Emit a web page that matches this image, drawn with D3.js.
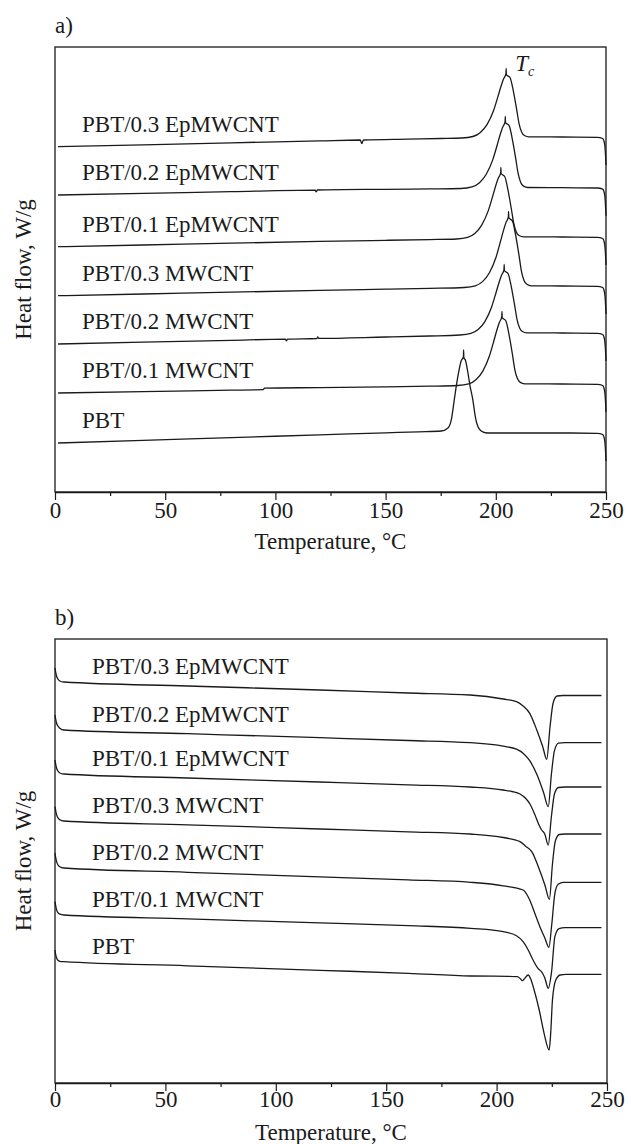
<!DOCTYPE html>
<html>
<head>
<meta charset="utf-8">
<script src="https://cdn.jsdelivr.net/npm/d3@7"></script>
<style>
    body { margin: 0; background: #fff; }
    svg text { font-family: "Liberation Serif", "Times New Roman", serif; fill: #1a1a1a; }
</style>
</head>
<body>
<div id="chart"></div>
<script>

// sample names, top to bottom (same order in both panels)
var sampleNames = ["PBT/0.3 EpMWCNT", "PBT/0.2 EpMWCNT", "PBT/0.1 EpMWCNT",
    "PBT/0.3 MWCNT", "PBT/0.2 MWCNT", "PBT/0.1 MWCNT", "PBT"];

var tempTicks = [0, 50, 100, 150, 200, 250];
var tempMinorTicks = [25, 75, 125, 175, 225];

// a) cooling scans: vertical shift of each trace (W/g) and signal [T, W/g]
var coolOffsets = [3.55, 3.043, 2.55, 2.06, 1.59, 1.08, 0.59];

var cool03Ep = [[1.4,-0.097],[40,-0.078],[80,-0.058],[120,-0.039],[138.5,-0.03],[139.2,-0.065],[140,-0.03],[160,-0.021],[175,-0.015],[184.6,-0.01],[189.6,0.005],[193.0,0.046],[196.0,0.124],[199.0,0.265],[201.0,0.406],[202.3,0.502],[203.5,0.579],[204.6,0.63],[204.7,0.685],[204.8,0.625],[206.5,0.592],[207.6,0.498],[208.6,0.384],[209.5,0.271],[210.5,0.139],[211.7,0.05],[213.0,0.015],[215.0,0.002],[230,0],[246,-0.003],[248.5,-0.015],[249.3,-0.06],[249.7,-0.15],[250,-0.28]];
var cool02Ep = [[1.4,-0.073],[40,-0.057],[80,-0.04],[118,-0.024],[118.5,-0.041],[119,-0.023],[150,-0.016],[170,-0.012],[184.2,-0.008],[189.2,0.008],[192.6,0.05],[195.6,0.132],[198.6,0.278],[200.6,0.424],[201.9,0.524],[203.1,0.604],[204.2,0.657],[204.3,0.712],[204.4,0.652],[206.1,0.618],[207.2,0.519],[208.2,0.401],[209.1,0.283],[210.1,0.145],[211.3,0.053],[212.6,0.016],[214.6,0.002],[230,0],[246,-0.003],[248.5,-0.015],[249.3,-0.06],[249.7,-0.15],[250,-0.28]];
var cool01Ep = [[1.4,-0.097],[40,-0.08],[80,-0.062],[120,-0.044],[150,-0.033],[170,-0.026],[182.2,-0.02],[187.2,-0.004],[190.6,0.037],[193.6,0.119],[196.6,0.264],[198.6,0.409],[199.9,0.508],[201.1,0.587],[202.2,0.64],[202.3,0.695],[202.4,0.635],[204.1,0.602],[205.2,0.506],[206.2,0.39],[207.1,0.275],[208.1,0.141],[209.3,0.051],[210.6,0.015],[212.6,0.002],[230,0],[246,-0.003],[248.5,-0.015],[249.3,-0.06],[249.7,-0.15],[250,-0.28]];
var cool03MW = [[1.4,-0.097],[40,-0.08],[80,-0.062],[120,-0.044],[150,-0.032],[170,-0.024],[185.7,-0.015],[190.7,0.002],[194.1,0.046],[197.1,0.133],[200.1,0.288],[202.1,0.443],[203.4,0.549],[204.6,0.634],[205.7,0.69],[205.8,0.745],[205.9,0.685],[207.6,0.649],[208.7,0.545],[209.7,0.421],[210.6,0.297],[211.6,0.152],[212.8,0.055],[214.1,0.017],[216.1,0.002],[230,0],[246,-0.003],[248.5,-0.015],[249.3,-0.06],[249.7,-0.15],[250,-0.28]];
var cool02MW = [[1.4,-0.11],[40,-0.092],[80,-0.073],[104.5,-0.062],[105,-0.078],[105.5,-0.061],[118.8,-0.055],[119.2,-0.04],[119.6,-0.054],[150,-0.04],[170,-0.03],[183.7,-0.02],[188.7,-0.004],[192.1,0.037],[195.1,0.117],[198.1,0.26],[200.1,0.403],[201.4,0.5],[202.6,0.578],[203.7,0.63],[203.8,0.685],[203.9,0.625],[205.6,0.592],[206.7,0.498],[207.7,0.384],[208.6,0.271],[209.6,0.139],[210.8,0.05],[212.1,0.015],[214.1,0.002],[230,0],[246,-0.003],[248.5,-0.015],[249.3,-0.06],[249.7,-0.15],[250,-0.28]];
var cool01MW = [[1.4,-0.09],[40,-0.076],[80,-0.062],[94.5,-0.057],[95,-0.042],[120,-0.036],[150,-0.028],[170,-0.022],[182.7,-0.015],[187.7,0.001],[191.1,0.045],[194.1,0.129],[197.1,0.28],[199.1,0.43],[200.4,0.533],[201.6,0.615],[202.7,0.67],[202.8,0.725],[202.9,0.665],[204.6,0.63],[205.7,0.529],[206.7,0.409],[207.6,0.288],[208.6,0.147],[209.8,0.054],[211.1,0.016],[213.1,0.002],[230,0],[246,-0.003],[248.5,-0.015],[249.3,-0.06],[249.7,-0.15],[250,-0.28]];
var coolPBT = [[1.4,-0.1],[40,-0.074],[80,-0.046],[120,-0.019],[150,0.002],[165,0.012],[175.3,0.02],[178.3,0.05],[179.8,0.131],[181.3,0.353],[182.3,0.501],[183.3,0.627],[184.3,0.723],[185.3,0.76],[185.4,0.83],[185.5,0.755],[186.3,0.722],[187.3,0.608],[188.3,0.471],[189.5,0.342],[190.8,0.152],[192.3,0.046],[194.3,0.008],[196.3,0],[230,0],[246,-0.003],[248.5,-0.015],[249.3,-0.06],[249.7,-0.15],[250,-0.28]];

// b) heating scans
var heatOffsets = [3.875, 3.403, 2.96, 2.49, 2.007, 1.553, 1.087];

var heat03Ep = [[0,0.275],[0.3,0.235],[0.7,0.195],[1.3,0.165],[2.2,0.145],[4,0.135],[60,0.095],[120,0.055],[160,0.025],[188,0.005],[203,-0.035],[209,-0.062],[212,-0.105],[215,-0.178],[218.2,-0.345],[220.9,-0.512],[222.7,-0.638],[224.2,-0.312],[225.6,-0.075],[227.4,-0.005],[230,0],[247.5,0]];
var heat02Ep = [[0,0.277],[0.3,0.237],[0.7,0.197],[1.3,0.167],[2.2,0.145],[4,0.127],[60,0.09],[120,0.05],[160,0.022],[188,0],[203,-0.035],[209,-0.065],[212,-0.105],[215,-0.18],[218.5,-0.33],[221.3,-0.5],[223.4,-0.64],[224.8,-0.32],[226.2,-0.08],[228,-0.005],[231,0],[247.5,0]];
var heat01Ep = [[0,0.27],[0.3,0.23],[0.7,0.19],[1.3,0.16],[2.2,0.14],[4,0.13],[60,0.09],[120,0.05],[160,0.022],[188,0],[203,-0.03],[207,-0.045],[210.6,-0.07],[213,-0.11],[215.1,-0.17],[217.4,-0.28],[219,-0.37],[220.4,-0.43],[221.8,-0.47],[223.4,-0.58],[224.8,-0.3],[226.2,-0.07],[228,-0.005],[231,0],[247.5,0]];
var heat03MW = [[0,0.273],[0.3,0.233],[0.7,0.193],[1.3,0.163],[2.2,0.143],[4,0.13],[60,0.092],[120,0.05],[160,0.022],[188,0],[203,-0.035],[210.6,-0.077],[213,-0.12],[216,-0.178],[219.2,-0.345],[221.9,-0.512],[223.9,-0.653],[225.3,-0.3],[226.6,-0.07],[228.4,-0.005],[231,0],[247.5,0]];
var heat02MW = [[0,0.293],[0.3,0.25],[0.7,0.21],[1.3,0.175],[2.2,0.155],[4,0.143],[60,0.1],[120,0.055],[160,0.025],[188.3,0],[203,-0.035],[212,-0.077],[215,-0.177],[217.3,-0.31],[219.6,-0.444],[221.9,-0.56],[223.7,-0.65],[224.9,-0.44],[226.4,-0.11],[227.9,-0.02],[230.2,0],[247.5,0]];
var heat01MW = [[0,0.26],[0.3,0.22],[0.7,0.18],[1.3,0.15],[2.2,0.135],[4,0.127],[60,0.088],[120,0.048],[160,0.02],[188.3,-0.006],[203,-0.04],[209,-0.08],[212,-0.14],[214.5,-0.23],[216.5,-0.323],[218.8,-0.41],[220.3,-0.44],[221.8,-0.5],[223.4,-0.606],[224.9,-0.44],[226.4,-0.09],[228.3,-0.01],[231,0],[247.5,0]];
var heatPBT = [[0,0.243],[0.3,0.2],[0.7,0.165],[1.3,0.14],[2.2,0.13],[4,0.126],[60,0.085],[120,0.04],[160,0.01],[188.3,-0.017],[205,-0.02],[209.4,-0.023],[210.8,-0.045],[211.7,-0.064],[212.6,-0.045],[214.3,-0.007],[215.5,-0.05],[217,-0.157],[219.3,-0.357],[221.5,-0.59],[223.8,-0.757],[224.5,-0.59],[225.3,-0.257],[226.8,-0.057],[228.8,-0.007],[231.4,0],[247.5,0]];


DSCPanel = function(_svg, _curves, _offsets, _opts) {
    this.svg = _svg;
    this.curves = _curves;
    this.offsets = _offsets;
    this.opts = _opts;
    this.initVis();
};

DSCPanel.prototype.initVis = function() {
    var vis = this;
    var o = vis.opts;

    vis.x = d3.scaleLinear().domain([0, 250]).range([o.left, o.right]);
    vis.y = d3.scaleLinear().domain(o.yDomain).range([o.bottom, o.top]);

    vis.g = vis.svg.append("g");

    // frame round the plot
    vis.g.append("rect")
        .attr("x", o.left)
        .attr("y", o.top)
        .attr("width", o.right - o.left)
        .attr("height", o.bottom - o.top)
        .attr("fill", "none")
        .attr("stroke", "#1a1a1a")
        .attr("stroke-width", 1.3);

    // minor ticks first, then the labelled ones
    vis.g.append("g")
        .attr("transform", "translate(0," + o.bottom + ")")
        .call(d3.axisBottom(vis.x).tickValues(tempMinorTicks).tickSize(4).tickSizeOuter(0).tickFormat(""))
        .call(function(g) { g.select(".domain").remove(); });

    vis.xAxis = vis.g.append("g")
        .attr("transform", "translate(0," + o.bottom + ")")
        .call(d3.axisBottom(vis.x).tickValues(tempTicks).tickSize(8).tickSizeOuter(0).tickPadding(o.tickPad));
    vis.xAxis.select(".domain").attr("stroke", "#1a1a1a").attr("stroke-width", 1.3);
    vis.g.selectAll(".tick line").attr("stroke", "#1a1a1a").attr("stroke-width", 1.2);
    vis.xAxis.selectAll(".tick text")
        .style("font-size", "23px")
        .attr("fill", "#1a1a1a");

    vis.g.append("text")
        .attr("x", (o.left + o.right) / 2)
        .attr("y", o.bottom + 57)
        .attr("text-anchor", "middle")
        .style("font-size", "23px")
        .text("Temperature, \u00B0C");

    vis.g.append("text")
        .attr("transform", "translate(31," + ((o.top + o.bottom) / 2) + ") rotate(-90)")
        .attr("text-anchor", "middle")
        .style("font-size", "23px")
        .text("Heat flow, W/g");

    vis.g.append("text")
        .attr("x", o.left)
        .attr("y", o.top - 14.5)
        .style("font-size", "23px")
        .text(o.letter);

    vis.drawCurves();
};

DSCPanel.prototype.drawCurves = function() {
    var vis = this;
    var o = vis.opts;

    var series = vis.curves.map(function(pts, i) {
        return { name: sampleNames[i], offset: vis.offsets[i], values: pts };
    });

    var line = d3.line()
        .curve(d3.curveMonotoneX);

    vis.g.selectAll(".trace")
        .data(series)
        .enter().append("path")
        .attr("class", "trace")
        .attr("fill", "none")
        .attr("stroke", "#1a1a1a")
        .attr("stroke-width", 1.3)
        .attr("d", function(s) {
            return line.x(function(d) { return vis.x(d[0]); })
                .y(function(d) { return vis.y(s.offset + d[1]); })(s.values);
        });

    // sample names sit just above the start of each trace
    vis.g.selectAll(".name")
        .data(series)
        .enter().append("text")
        .attr("class", "name")
        .attr("x", o.labelX)
        .attr("y", function(s) { return vis.y(s.offset + s.values[o.labelPoint][1]) - o.labelGap; })
        .style("font-size", "23px")
        .text(function(s) { return s.name; });
};

var svg = d3.select("#chart").append("svg")
    .attr("width", 631)
    .attr("height", 1144);

var coolPanel = new DSCPanel(svg,
    [cool03Ep, cool02Ep, cool01Ep, cool03MW, cool02MW, cool01MW, coolPBT], coolOffsets,
    { left: 55, right: 606, top: 47, bottom: 492, yDomain: [0, 4.45], letter: "a)",
      labelX: 82, labelPoint: 0, labelGap: 15, tickPad: 2 });

var heatPanel = new DSCPanel(svg,
    [heat03Ep, heat02Ep, heat01Ep, heat03MW, heat02MW, heat01MW, heatPBT], heatOffsets,
    { left: 55, right: 607, top: 639, bottom: 1083, yDomain: [0, 4.44], letter: "b)",
      labelX: 92, labelPoint: 5, labelGap: 8, tickPad: 0 });

// Tc marker above the top crystallisation peak
var tcT = cool03Ep[18][0];
var tcLabel = coolPanel.g.append("text")
    .attr("x", coolPanel.x(tcT) + 9)
    .attr("y", coolPanel.y(coolOffsets[0] + cool03Ep[18][1]) + 2)
    .style("font-size", "23px")
    .style("font-style", "italic");
tcLabel.append("tspan").text("T");
tcLabel.append("tspan")
    .attr("dy", 5)
    .style("font-size", "14px")
    .text("c");

</script>
</body>
</html>
